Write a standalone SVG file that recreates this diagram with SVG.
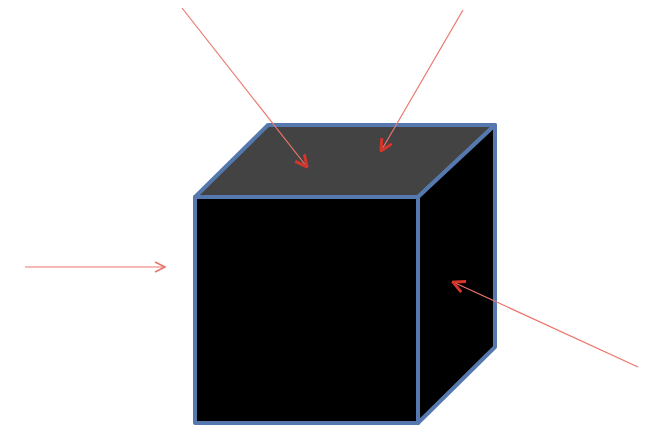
<svg xmlns="http://www.w3.org/2000/svg" width="648" height="427" viewBox="0 0 648 427">
<style>
.face{stroke:#5579ae;stroke-width:4;stroke-linejoin:round}
.ray{stroke:#ec766c;stroke-width:1.2;fill:none}
</style>
<defs>
<marker id="ah" viewBox="0 0 12 12" refX="11" refY="6" markerWidth="12" markerHeight="12" markerUnits="userSpaceOnUse" orient="auto">
<path d="M1,1 L11,6 L1,11" fill="none" stroke="#ec766c" stroke-width="1.6"/>
</marker>
<marker id="ahd" viewBox="0 0 12 12" refX="11" refY="6" markerWidth="14" markerHeight="14" markerUnits="userSpaceOnUse" orient="auto">
<path d="M1,1 L11,6 L1,11" fill="none" stroke="#d8352a" stroke-width="2.5"/>
</marker>
</defs>
<rect width="648" height="427" fill="#ffffff"/>
<g id="cube">
<polygon id="top" class="face" fill="#434343" points="195,197 268,125 495,125 418,197"/>
<polygon id="side" class="face" fill="#000000" points="418,197 495,125 495,347 418,423"/>
<rect id="front" class="face" fill="#000000" x="195" y="197" width="223" height="226"/>
</g>
<g id="connectors">
<line class="ray" x1="182" y1="8" x2="307" y2="167" marker-end="url(#ahd)"/>
<line class="ray" x1="463" y1="10" x2="381" y2="151" marker-end="url(#ahd)"/>
<line class="ray" x1="25" y1="267" x2="165" y2="267" marker-end="url(#ah)"/>
<line class="ray" x1="638" y1="367" x2="453" y2="282" marker-end="url(#ahd)"/>
</g>
</svg>
